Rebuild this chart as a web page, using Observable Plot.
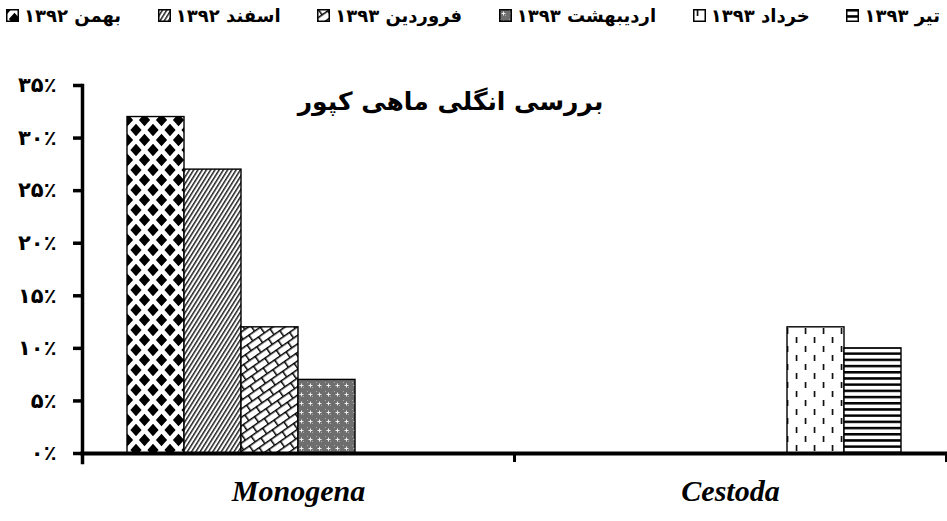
<!DOCTYPE html>
<html>
<head>
<meta charset="utf-8">
<script src="https://cdn.jsdelivr.net/npm/d3@7"></script>
<script src="https://cdn.jsdelivr.net/npm/@observablehq/plot@0.6"></script>
<style>
  html, body { margin: 0; padding: 0; background: #fff; }
  #wrap { position: relative; width: 947px; }
  #legend { display: flex; justify-content: space-between; align-items: center; height: 30px; padding: 0 7px 0 6px; box-sizing: border-box; font-family: "DejaVu Sans", sans-serif; font-weight: bold; font-size: 18px; color: #000; white-space: nowrap; }
  .item { display: flex; align-items: center; }
  .item svg { margin-right: 5px; flex: none; }
</style>
</head>
<body>
<svg width="0" height="0" style="position:absolute">
  <defs>
    <pattern id="p0" width="17" height="20" patternUnits="userSpaceOnUse">
      <rect width="17" height="20" fill="#fff"/>
      <path d="M0,-6.2 L5.6,0 L0,6.2 L-5.6,0 Z M17,-6.2 L22.6,0 L17,6.2 L11.4,0 Z M0,13.8 L5.6,20 L0,26.2 L-5.6,20 Z M17,13.8 L22.6,20 L17,26.2 L11.4,20 Z M8.5,3.8 L14.1,10 L8.5,16.2 L2.9,10 Z" fill="#000"/>
    </pattern>
    <pattern id="p1" width="3.6" height="10" patternUnits="userSpaceOnUse" patternTransform="rotate(32)">
      <rect width="3.6" height="10" fill="#fff"/>
      <rect x="0" y="0" width="1.5" height="10" fill="#222"/>
    </pattern>
    <pattern id="p2" width="14" height="14" patternUnits="userSpaceOnUse" patternTransform="rotate(-35)">
      <rect width="14" height="14" fill="#fff"/>
      <path d="M0,0.75 H14 M0,7.75 H14 M0.75,0 V7 M7.75,7 V14" stroke="#000" stroke-width="1.5" fill="none"/>
    </pattern>
    <pattern id="p3" width="9" height="9" patternUnits="userSpaceOnUse">
      <rect width="9" height="9" fill="#6e6e6e"/>
      <rect x="1" y="1" width="1" height="1" fill="#aaa"/>
      <rect x="6" y="6" width="1" height="1" fill="#aaa"/>
      <rect x="4" y="2.5" width="1" height="4" fill="#eee"/>
      <rect x="2.5" y="4" width="4" height="1" fill="#eee"/>
    </pattern>
    <pattern id="p4" width="18" height="18" patternUnits="userSpaceOnUse">
      <rect width="18" height="18" fill="#fff"/>
      <rect x="3.7" y="1" width="1.7" height="6" fill="#111"/>
      <rect x="12.7" y="10" width="1.7" height="6" fill="#111"/>
    </pattern>
    <pattern id="p5" width="6" height="6.2" patternUnits="userSpaceOnUse">
      <rect width="6" height="6.2" fill="#fff"/>
      <rect x="0" y="0" width="6" height="2.5" fill="#000"/>
    </pattern>
  </defs>
</svg>
<div id="wrap">
  <div id="legend"></div>
  <div id="chart"></div>
</div>
<script>
// ---- data ----
const categories = ["Monogena", "Cestoda"];
const series = ["بهمن ۱۳۹۲", "اسفند ۱۳۹۲", "فروردین ۱۳۹۳", "اردیبهشت ۱۳۹۳", "خرداد ۱۳۹۳", "تیر ۱۳۹۳"];
const monogenaValues = [32, 27, 12, 7, 0, 0];
const cestodaValues = [0, 0, 0, 0, 12, 10];
const yTicks = [0, 5, 10, 15, 20, 25, 30, 35];
const yTickLabels = ["۰٪", "۵٪", "۱۰٪", "۱۵٪", "۲۰٪", "۲۵٪", "۳۰٪", "۳۵٪"];
const title = "بررسی انگلی ماهی کپور";
const patternIds = ["p0", "p1", "p2", "p3", "p4", "p5"];

const rows = [];
series.forEach((s, i) => {
  rows.push({category: categories[0], series: s, value: monogenaValues[i]});
  rows.push({category: categories[1], series: s, value: cestodaValues[i]});
});

// ---- legend ----
const legend = document.getElementById("legend");
series.forEach((s, i) => {
  const item = document.createElement("div");
  item.className = "item";
  item.innerHTML = `<svg width="13" height="13"><rect x="0.75" y="0.75" width="11.5" height="11.5" fill="url(#${patternIds[i]})" stroke="#000" stroke-width="1.5"/></svg><span dir="rtl">${s}</span>`;
  legend.appendChild(item);
});

// ---- chart ----
const W = 947, H = 491, mL = 82, mR = 1, mT = 55, mB = 68;
const step = (W - mL - mR) / categories.length;

const chart = Plot.plot({
  width: W,
  height: H,
  marginLeft: mL,
  marginRight: mR,
  marginTop: mT,
  marginBottom: mB,
  style: {fontFamily: "DejaVu Sans, sans-serif", color: "#000", background: "#fff", overflow: "visible"},
  fx: {domain: categories, paddingInner: 0, paddingOuter: 0, label: null},
  x: {domain: series, paddingInner: 0, paddingOuter: 0, insetLeft: 43, insetRight: 43, axis: null},
  y: {domain: [0, 35], label: null},
  color: {domain: series, range: patternIds.map(id => `url(#${id})`)},
  marks: [
    Plot.barY(rows.filter(d => d.value > 0), {fx: "category", x: "series", y: "value", fill: "series", stroke: "#000", strokeWidth: 1.4}),
    Plot.axisY({ticks: yTicks, tickFormat: d => yTickLabels[yTicks.indexOf(d)], tickSize: 9, tickPadding: 17, strokeWidth: 3.5, fontSize: 21, fontWeight: "bold", label: null}),
    Plot.frame({anchor: "left", facet: "super", strokeWidth: 3.5, insetBottom: -9}),
    Plot.frame({anchor: "bottom", facet: "super", strokeWidth: 4}),
    Plot.axisFx({anchor: "bottom", tickSize: 9, tickFormat: () => "", dx: -step / 2, strokeWidth: 3, label: null}),
    Plot.axisFx({anchor: "bottom", ticks: [categories[1]], tickSize: 9, tickFormat: () => "", dx: step / 2, strokeWidth: 3, label: null}),
    Plot.axisFx({anchor: "bottom", tickSize: 0, tickPadding: 26, fontSize: 30, fontWeight: "bold", fontStyle: "italic", fontFamily: "Liberation Serif, serif", label: null}),
    Plot.text([title], {facet: "super", frameAnchor: "top", dx: -64, dy: 7, fontSize: 25, fontWeight: "bold", fontFamily: "DejaVu Sans, sans-serif"})
  ]
});
document.getElementById("chart").appendChild(chart);
</script>
</body>
</html>
